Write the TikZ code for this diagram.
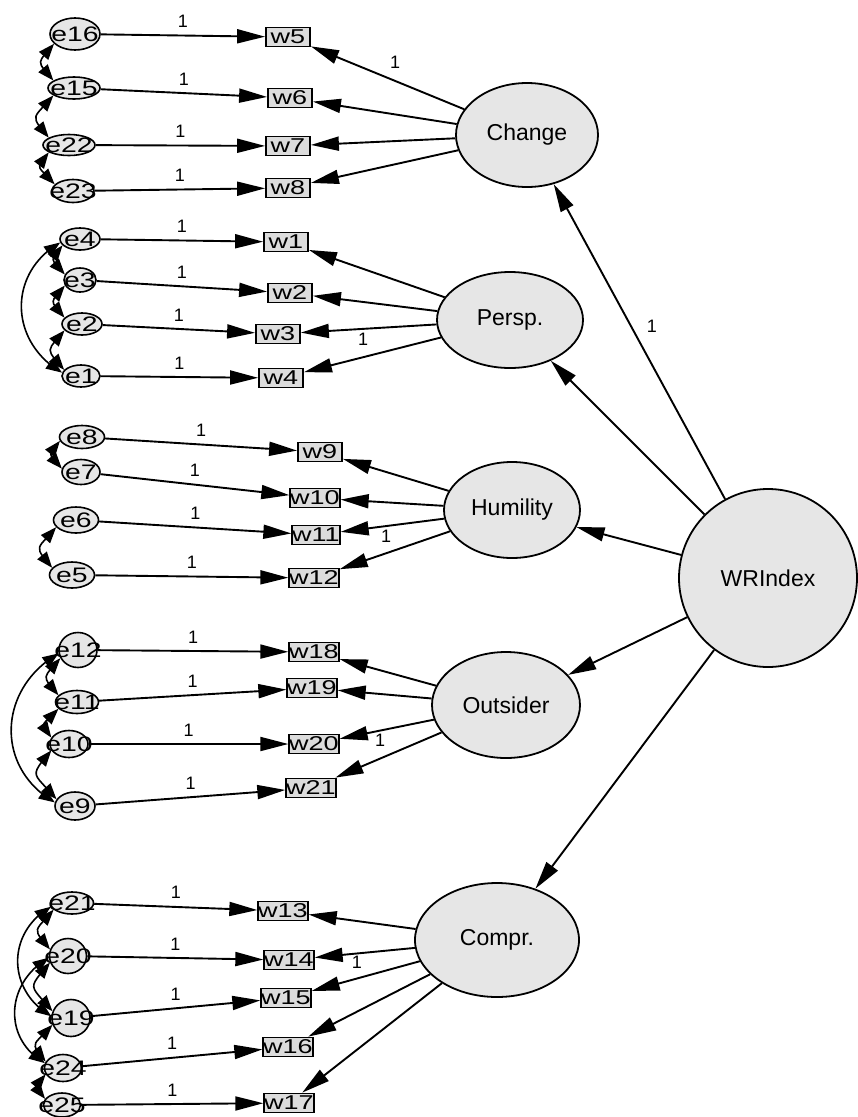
\documentclass[tikz,border=0pt]{standalone}
\usepackage{fontspec}
\setmainfont{Liberation Sans}
\newfontfamily\stretchfont{Liberation Sans}[FakeStretch=1.35]
\usetikzlibrary{shapes.geometric,arrows.meta,bending}
\definecolor{latfill}{HTML}{E6E6E6}
\definecolor{obsfill}{HTML}{DCDCDC}
\begin{document}
\begin{tikzpicture}[x=1pt,y=-1pt,
 lat/.style={ellipse, draw, line width=1.8pt, fill=latfill, inner sep=0pt, font=\fontsize{23}{23}\selectfont},
 obs/.style={rectangle, draw, line width=1.8pt, fill=obsfill, minimum width=44pt, minimum height=19pt, inner sep=0pt, font=\stretchfont\fontsize{20}{20}\selectfont},
 err/.style={ellipse, draw, line width=1.6pt, fill=latfill, inner sep=0pt},
 elab/.style={font=\stretchfont\fontsize{21}{21}\selectfont, inner sep=0pt},
 reg/.style={line width=1.9pt, -{Triangle[length=28pt,width=14pt]}},
 cov/.style={line width=1.6pt, {Triangle[length=16pt,width=12pt,flex]}-{Triangle[length=16pt,width=12pt,flex]}},
 covs/.style={cov, out=230, in=130, looseness=1.9},
 covl/.style={cov, out=210, in=150, looseness=1.2},
 one/.style={font=\fontsize{18}{18}\selectfont, inner sep=1pt},
]
\useasboundingbox (0,0) rectangle (858,1117);
\fill[white] (0,0) rectangle (858,1117);

% latent variables
\node[lat, minimum width=142pt, minimum height=104pt] (Change) at (527,135) {Change};
\node[lat, minimum width=146pt, minimum height=96pt] (Persp) at (510,320) {Persp.};
\node[lat, minimum width=136pt, minimum height=96pt] (Humility) at (512,510) {Humility};
\node[lat, minimum width=178pt, minimum height=178pt] (WRIndex) at (768,578) {WRIndex};
\node[lat, minimum width=148pt, minimum height=106pt] (Outsider) at (506,705) {Outsider};
\node[lat, minimum width=164pt, minimum height=114pt] (Compr) at (497,940) {Compr.};

% observed variables
\node[obs] (w5) at (288,37) {w5};
\node[obs] (w6) at (290,98) {w6};
\node[obs] (w7) at (288,146) {w7};
\node[obs] (w8) at (288,188) {w8};
\node[obs] (w1) at (286,242) {w1};
\node[obs] (w2) at (290,293) {w2};
\node[obs] (w3) at (278,334) {w3};
\node[obs] (w4) at (281,378) {w4};
\node[obs] (w9) at (320,452) {w9};
\node[obs] (w10) at (315,498) {w10};
\node[obs] (w11) at (316,535) {w11};
\node[obs] (w12) at (314,578) {w12};
\node[obs] (w18) at (314,652) {w18};
\node[obs] (w19) at (312,688) {w19};
\node[obs] (w20) at (314,744) {w20};
\node[obs] (w21) at (311,788) {w21};
\node[obs] (w13) at (283,911) {w13};
\node[obs] (w14) at (289,960) {w14};
\node[obs] (w15) at (286,998) {w15};
\node[obs] (w16) at (288,1047) {w16};
\node[obs] (w17) at (289,1103) {w17};

% error terms
\node[err, minimum width=50pt, minimum height=32pt, label={[elab]center:e16}] (e16) at (75,34) {};
\node[err, minimum width=52pt, minimum height=22pt, label={[elab]center:e15}] (e15) at (74,88) {};
\node[err, minimum width=52pt, minimum height=21pt, label={[elab]center:e22}] (e22) at (69,145) {};
\node[err, minimum width=42pt, minimum height=23pt, label={[elab]center:e23}] (e23) at (73,191) {};
\node[err, minimum width=40pt, minimum height=22pt, label={[elab]center:e4}] (e4) at (80,239) {};
\node[err, minimum width=32pt, minimum height=24pt, label={[elab]center:e3}] (e3) at (80,280) {};
\node[err, minimum width=40pt, minimum height=22pt, label={[elab]center:e2}] (e2) at (82,324) {};
\node[err, minimum width=38pt, minimum height=22pt, label={[elab]center:e1}] (e1) at (81,376) {};
\node[err, minimum width=45pt, minimum height=23pt, label={[elab]center:e8}] (e8) at (82,437) {};
\node[err, minimum width=38pt, minimum height=25pt, label={[elab]center:e7}] (e7) at (81,472) {};
\node[err, minimum width=45pt, minimum height=26pt, label={[elab]center:e6}] (e6) at (76,520) {};
\node[err, minimum width=45pt, minimum height=26pt, label={[elab]center:e5}] (e5) at (72,575) {};
\node[err, minimum width=38pt, minimum height=35pt, label={[elab]center:e12}] (e12) at (78,650) {};
\node[err, minimum width=43pt, minimum height=23pt, label={[elab]center:e11}] (e11) at (77,702) {};
\node[err, minimum width=38pt, minimum height=27pt, label={[elab]center:e10}] (e10) at (69,744) {};
\node[err, minimum width=40pt, minimum height=28pt, label={[elab]center:e9}] (e9) at (75,806) {};
\node[err, minimum width=43pt, minimum height=22pt, label={[elab]center:e21}] (e21) at (72,903) {};
\node[err, minimum width=37pt, minimum height=35pt, label={[elab]center:e20}] (e20) at (68,956) {};
\node[err, minimum width=38pt, minimum height=37pt, label={[elab]center:e19}] (e19) at (71,1018) {};
\node[err, minimum width=37pt, minimum height=27pt, label={[elab]center:e24}] (e24) at (63,1068) {};
\node[err, minimum width=37pt, minimum height=24pt, label={[elab]center:e25}] (e25) at (62,1105) {};

% error -> indicator
\foreach \e/\w in {e16/w5,e15/w6,e22/w7,e23/w8,e4/w1,e3/w2,e2/w3,e1/w4,
  e8/w9,e7/w10,e6/w11,e5/w12,e12/w18,e11/w19,e10/w20,e9/w21,
  e21/w13,e20/w14,e19/w15,e24/w16,e25/w17}
  \draw[reg] (\e) -- node[one, above=6pt]{1} (\w);

% factor loadings
\draw[reg] (Change) -- node[one, pos=0.45, above=11pt]{1} (w5);
\foreach \w in {w6,w7,w8} \draw[reg] (Change) -- (\w);
\foreach \w in {w1,w2,w4} \draw[reg] (Persp) -- (\w);
\draw[reg] (Persp) -- node[one, pos=0.54, below=2pt]{1} (w3);
\foreach \w in {w9,w10,w12} \draw[reg] (Humility) -- (\w);
\draw[reg] (Humility) -- node[one, pos=0.56, below=2pt]{1} (w11);
\foreach \w in {w18,w19,w21} \draw[reg] (Outsider) -- (\w);
\draw[reg] (Outsider) -- node[one, pos=0.57, below=2pt]{1} (w20);
\foreach \w in {w13,w15,w16,w17} \draw[reg] (Compr) -- (\w);
\draw[reg] (Compr) -- node[one, pos=0.58, below=1pt]{1} (w14);

% second-order
\draw[reg] (WRIndex) -- node[one, pos=0.55, right=14pt]{1} (Change);
\foreach \f in {Persp,Humility,Outsider,Compr} \draw[reg] (WRIndex) -- (\f);

% covariances
\draw[covs] (e16.205) to (e15.160);
\draw[covs] (e15.200) to (e22.160);
\draw[covs] (e22.200) to (e23.160);
\draw[covs] (e4.200) to (e3.160);
\draw[covs] (e3.200) to (e2.160);
\draw[covs] (e2.200) to (e1.160);
\draw[covl] (e4.190) to (e1.170);
\draw[covs] (e8.190) to (e7.170);
\draw[covs] (e6.200) to (e5.160);
\draw[covs] (e12.205) to (e11.160);
\draw[covs] (e11.200) to (e10.160);
\draw[covs] (e10.200) to (e9.160);
\draw[covl] (e12.190) to (e9.170);
\draw[covs] (e21.200) to (e20.160);
\draw[covs] (e20.200) to (e19.160);
\draw[covs] (e19.200) to (e24.160);
\draw[covs] (e24.200) to (e25.160);
\draw[covl] (e21.190) to (e19.175);
\draw[covl] (e20.185) to (e24.165);
\end{tikzpicture}
\end{document}
